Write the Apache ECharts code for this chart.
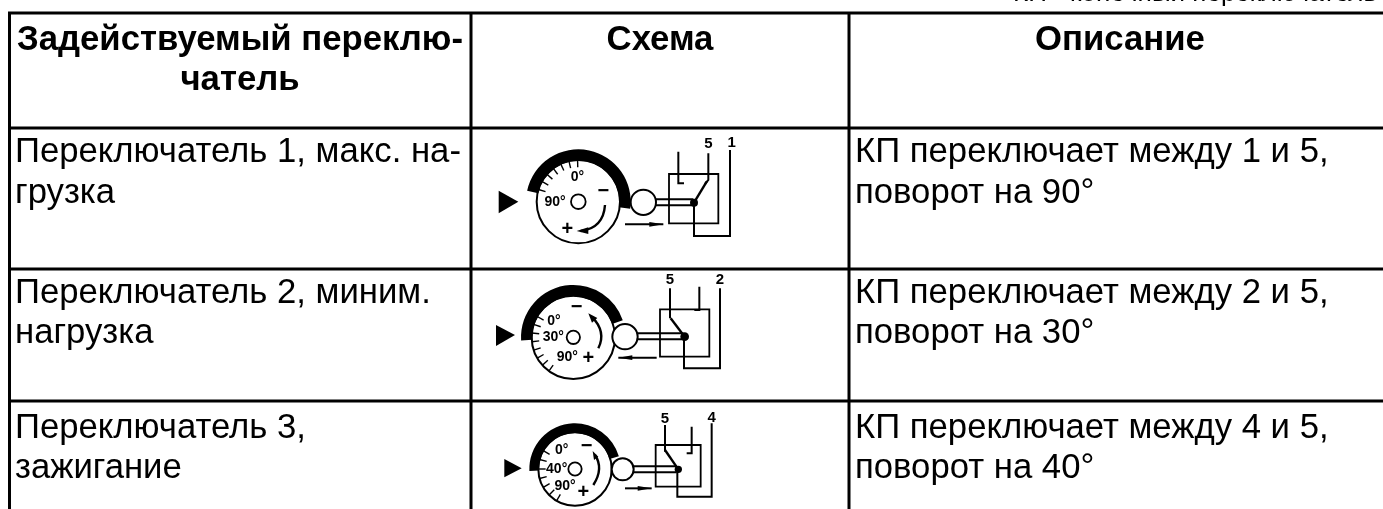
<!DOCTYPE html>
<html lang="ru">
<head>
    <meta charset="UTF-8">
    <title>Переключатели</title>
    <script src="https://cdn.jsdelivr.net/npm/echarts@6/dist/echarts.min.js"></script>
    <style>
        html, body { margin: 0; padding: 0; background: #fff; }
        #chart { width: 1383px; height: 509px; }
    </style>
</head>
<body>
<div id="chart"></div>

<script type="text/javascript">
    // table content
    var caption = 'КП - конечный переключатель';
    var headers = [['Задействуемый переклю-', 'чатель'], ['Схема'], ['Описание']];
    var switchNames = [
        ['Переключатель 1, макс. на-', 'грузка'],
        ['Переключатель 2, миним.', 'нагрузка'],
        ['Переключатель 3,', 'зажигание']
    ];
    var descriptions = [
        ['КП переключает между 1 и 5,', 'поворот на 90°'],
        ['КП переключает между 2 и 5,', 'поворот на 30°'],
        ['КП переключает между 4 и 5,', 'поворот на 40°']
    ];
    var dialAngles = ['90°', '30°', '40°'];
    var terminals = ['1', '2', '4'];

    var font = '"Liberation Sans", Arial, sans-serif';
    var size = 34.7;
    var els = [];

    function line(x1, y1, x2, y2, w) {
        els.push({type: 'line', shape: {x1: x1, y1: y1, x2: x2, y2: y2}, style: {stroke: '#000', lineWidth: w || 2}});
    }
    function text(x, y, s, fs, weight, align) {
        els.push({type: 'text', x: x, y: y, style: {
            text: s, fontFamily: font, fontSize: fs, fontWeight: weight || 'normal',
            fill: '#000', textAlign: align || 'left', textVerticalAlign: 'middle'
        }});
    }

    // grid of the table
    var colX = [9.5, 471, 849];
    var rowY = [13, 128, 269, 401];
    rowY.forEach(function (y) { line(8, y, 1383, y, 3); });
    colX.forEach(function (x) { line(x, 12, x, 509, 3); });

    text(1013, -6, caption, 26);

    text(240, 40, headers[0][0], size, 'bold', 'center');
    text(240, 80, headers[0][1], size, 'bold', 'center');
    text(660, 40, headers[1][0], size, 'bold', 'center');
    text(1120, 40, headers[2][0], size, 'bold', 'center');

    var nameY = [[152, 193], [293, 333], [428, 468]];
    switchNames.forEach(function (n, i) {
        text(15, nameY[i][0], n[0], size);
        text(15, nameY[i][1], n[1], size);
        text(855, nameY[i][0], descriptions[i][0], size);
        text(855, nameY[i][1], descriptions[i][1], size);
    });

    // one dial + limit switch drawing, all numbers are in pixels of the 3x crop
    function schema(p, i) {
        function X(v) { return p.ox + v / 3; }
        function Y(v) { return p.oy + v / 3; }
        function L(a, b, c, d, w) { line(X(a), Y(b), X(c), Y(d), w); }
        function pts(list) { return list.map(function (q) { return [X(q[0]), Y(q[1])]; }); }

        els.push({type: 'polygon', shape: {points: pts(p.tri)}, style: {fill: '#000'}});
        els.push({type: 'sector', shape: {cx: X(p.c[0]), cy: Y(p.c[1]), r: p.R / 3, r0: (p.r - 2) / 3, startAngle: p.arc[0], endAngle: p.arc[1], clockwise: true}, style: {fill: '#000'}});
        els.push({type: 'circle', shape: {cx: X(p.c[0]), cy: Y(p.c[1]), r: p.r / 3}, style: {stroke: '#000', lineWidth: 2, fill: 'none'}});
        els.push({type: 'circle', shape: {cx: X(p.c[0]), cy: Y(p.c[1]), r: p.hole / 3}, style: {stroke: '#000', lineWidth: 1.8, fill: '#fff'}});

        // scale ticks
        p.ticks.forEach(function (a) {
            var t = a * Math.PI / 180, r1 = p.r, r2 = p.r - 22;
            L(p.c[0] + r1 * Math.cos(t), p.c[1] + r1 * Math.sin(t), p.c[0] + r2 * Math.cos(t), p.c[1] + r2 * Math.sin(t), 1.4);
        });

        // switch box and wires
        els.push({type: 'rect', shape: {x: X(p.box[0]), y: Y(p.box[1]), width: (p.box[2] - p.box[0]) / 3, height: (p.box[3] - p.box[1]) / 3}, style: {stroke: '#000', lineWidth: 1.8, fill: 'none'}});
        els.push({type: 'circle', shape: {cx: X(p.roller[0]), cy: Y(p.roller[1]), r: p.roller[2] / 3}, style: {stroke: '#000', lineWidth: 2, fill: '#fff'}});
        L(p.rod[0], p.rod[1] - 9, p.rod[2], p.rod[1] - 9, 2);
        L(p.rod[0], p.rod[1] + 9, p.rod[2], p.rod[1] + 9, 2);
        p.wires.forEach(function (w) {
            els.push({type: 'polyline', shape: {points: pts(w)}, style: {stroke: '#000', lineWidth: 2, fill: 'none'}});
        });
        L(p.dot[0], p.dot[1], p.arm[0], p.arm[1], 2.4);
        els.push({type: 'circle', shape: {cx: X(p.dot[0]), cy: Y(p.dot[1]), r: p.dot[2] / 3}, style: {fill: '#000'}});

        // travel arrow
        L(p.move[0], p.move[1], p.move[2], p.move[1], 2);
        var tip = p.move[2], dir = p.move[2] > p.move[0] ? -1 : 1;
        els.push({type: 'polygon', shape: {points: pts([[tip, p.move[1]], [tip + dir * 42, p.move[1] - 7], [tip + dir * 42, p.move[1] + 7]])}, style: {fill: '#000'}});

        // rotation arrow
        els.push({type: 'bezierCurve', shape: {x1: X(p.turn[0]), y1: Y(p.turn[1]), cpx1: X(p.turn[2]), cpy1: Y(p.turn[3]), x2: X(p.turn[4]), y2: Y(p.turn[5])}, style: {stroke: '#000', lineWidth: 2.4, fill: 'none'}});
        els.push({type: 'polygon', shape: {points: pts(p.head)}, style: {fill: '#000'}});

        text(X(p.zero[0]), Y(p.zero[1]), '0°', 14, 'bold', 'center');
        text(X(p.deg[0]), Y(p.deg[1]), dialAngles[i], 14, 'bold', 'center');
        if (i > 0) text(X(p.ninety[0]), Y(p.ninety[1]), '90°', 14, 'bold', 'center');
        text(X(p.minus[0]), Y(p.minus[1]), '−', 20, 'bold', 'center');
        text(X(p.plus[0]), Y(p.plus[1]), '+', 20, 'bold', 'center');
        text(X(p.t5[0]), Y(p.t5[1]), '5', 15, 'bold', 'center');
        text(X(p.tn[0]), Y(p.tn[1]), terminals[i], 15, 'bold', 'center');
    }

    var schemas = [
        {ox: 460, oy: 120, tri: [[116, 212], [116, 280], [175, 245]], c: [355, 245], r: 125, R: 157, hole: 22, arc: [3.35, 6.42],
            ticks: [197, 209, 221, 233, 245, 257, 269], box: [627, 162, 775, 310], roller: [550, 247, 38], rod: [585, 247, 700], dot: [702, 248, 12], arm: [740, 185],
            wires: [[[655, 95], [655, 190], [672, 190]], [[745, 100], [745, 180], [735, 192]], [[702, 250], [702, 348], [810, 348], [810, 90]]],
            move: [495, 313, 610], turn: [435, 255, 430, 325, 362, 333], head: [[350, 333], [385, 322], [385, 342]],
            zero: [352, 170], deg: [285, 247], ninety: [0, 0], minus: [430, 215], plus: [322, 328], t5: [745, 73], tn: [815, 70]},
        {ox: 460, oy: 250, tri: [[108, 225], [108, 288], [165, 255]], c: [340, 262], r: 125, R: 157, hole: 20, arc: [3.08, 5.95],
            ticks: [150, 162, 174, 186, 198, 210, 138, 126], box: [600, 178, 748, 320], roller: [495, 260, 38], rod: [530, 259, 670], dot: [674, 260, 13], arm: [632, 205],
            wires: [[[630, 115], [630, 205]], [[718, 110], [718, 180], [703, 180]], [[672, 260], [672, 355], [780, 355], [780, 115]]],
            move: [590, 323, 475], turn: [395, 200, 440, 245, 415, 295], head: [[385, 190], [412, 204], [396, 218]],
            zero: [282, 212], deg: [280, 262], ninety: [322, 320], minus: [350, 172], plus: [385, 325], t5: [630, 90], tn: [780, 90]},
        {ox: 460, oy: 375, tri: [[133, 252], [133, 307], [185, 280]], c: [345, 282], r: 110, R: 137, hole: 20, arc: [3.1, 6.0],
            ticks: [150, 165, 180, 195, 210, 135, 120], box: [587, 210, 722, 335], roller: [488, 283, 33], rod: [520, 283, 650], dot: [655, 283, 11], arm: [615, 225],
            wires: [[[615, 150], [615, 230]], [[695, 155], [695, 235], [680, 235]], [[652, 283], [652, 365], [755, 365], [755, 145]]],
            move: [495, 340, 575], turn: [405, 240, 432, 280, 400, 330], head: [[398, 228], [415, 245], [402, 255]],
            zero: [305, 225], deg: [290, 282], ninety: [315, 333], minus: [380, 215], plus: [370, 352], t5: [615, 132], tn: [755, 130]}
    ];
    schemas.forEach(schema);

    var myChart = echarts.init(document.getElementById('chart'));
    myChart.setOption({
        backgroundColor: '#fff',
        animation: false,
        graphic: {elements: els}
    });
</script>

</body>
</html>
